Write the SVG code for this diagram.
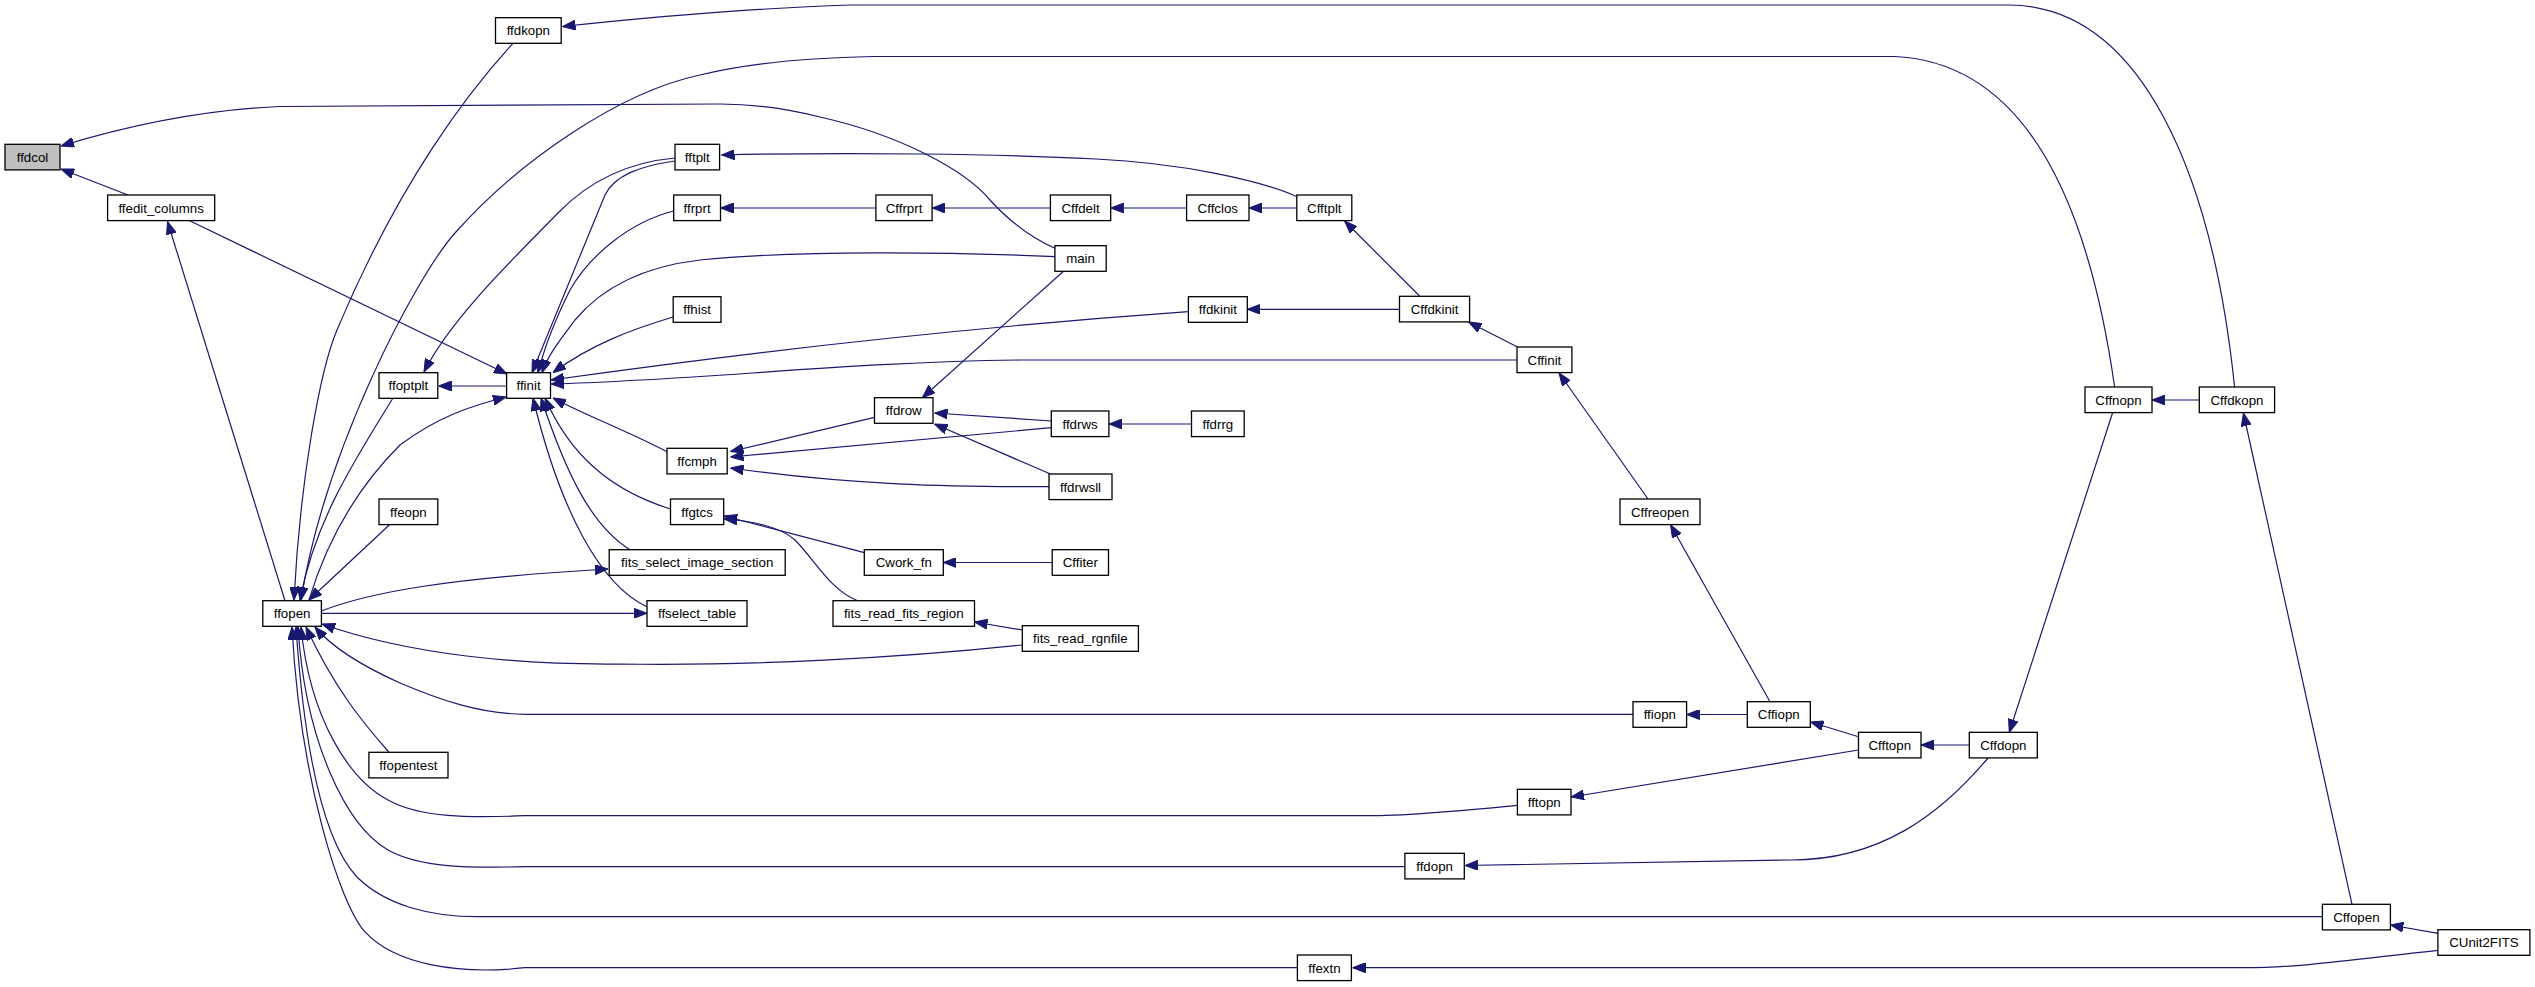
<svg xmlns="http://www.w3.org/2000/svg" width="2535" height="987" viewBox="0 0 2535 987">
<defs>
<style>
.n rect{fill:#fff;stroke:#000;stroke-width:1.3}
.n.root rect{fill:#bfbfbf}
.n text{font-family:"Liberation Sans",Arial,sans-serif;font-size:13.3px;fill:#000;text-anchor:middle}
#edges path{fill:none;stroke:#191970;stroke-width:1.2;marker-end:url(#ah)}
</style>
<marker id="ah" markerWidth="13" markerHeight="10" refX="13" refY="5" orient="auto" markerUnits="userSpaceOnUse">
<path d="M0,0 L13,5 L0,10 z" fill="#191970" stroke="#191970" stroke-width="1"/>
</marker>
</defs>
<rect width="2535" height="987" fill="#fff"/>
<g id="edges">
<path d="M1055,248.3 C1030,237 1010,222 990,200 C965,170 900,135 820,117 C780,107 750,104 720,104 L280,106.5 C200,110 120,128 61,146"/>
<path d="M128,195 L61,169"/>
<path d="M285,600.7 L167.5,221.5"/>
<path d="M189.7,220.7 L507,374"/>
<path d="M2234.6,387 C2212,170 2140,6 2009,5 L851,5 C760,8 650,17 562.5,26.5"/>
<path d="M513,43.3 C470,90 400,180 337,330 C320,370 300,480 294,600"/>
<path d="M2114.6,387 C2088,200 2025,62 1894,56.5 L873,56.5 C800,58 740,65 700,75 C620,92 520,160 455,233 C415,278 325,450 301,600"/>
<path d="M2199.3,400 L2152,400"/>
<path d="M2112.6,412.7 L2009.3,732.3"/>
<path d="M2352,904.3 L2243.4,413"/>
<path d="M2438,933.3 L2390.4,925"/>
<path d="M2438,950.3 C2350,960 2300,967.7 2244,967.7 L1352.5,967.7"/>
<path d="M2322.4,916.7 L480,916.7 C430,917 385,905 357,877 C325,843 305,760 296,627"/>
<path d="M1297.4,967.7 L525,967.7 C460,975 395,965 364.8,931.7 C340,904 300,780 292,627"/>
<path d="M1404.9,866.7 L525,866.7 C470,868 420,868 388,850 C345,825 305,740 298,627"/>
<path d="M1517.4,805.3 C1450,812 1400,815.7 1367,815.7 L525,815.7 C470,818 420,818 388,800 C350,780 310,720 301,627"/>
<path d="M1988,758 C1940,815 1880,860 1791,860 L1465,865.5"/>
<path d="M1969.3,745 L1921,745"/>
<path d="M1858.5,736.7 L1810.5,722"/>
<path d="M1858.5,750 L1571,797"/>
<path d="M1747.3,714.5 L1686.6,714.5"/>
<path d="M1770,701.7 L1670.5,524.7"/>
<path d="M1648,499 L1559,373"/>
<path d="M1517,346.7 L1468.5,322"/>
<path d="M1419.6,296 L1344.6,221"/>
<path d="M1399.5,309.3 L1247.3,309.3"/>
<path d="M1517,360 L1020,360 C850,362 700,380 551,384"/>
<path d="M1188.4,311.7 C1000,325 800,345 551,380"/>
<path d="M1297,196.7 C1260,180 1180,163 1096,159 C1000,154 850,152 721.5,155"/>
<path d="M1296.8,208 L1249,208"/>
<path d="M1186.6,208 L1110.7,208"/>
<path d="M1050.4,208 L932.1,208"/>
<path d="M875.9,208 L720.5,208"/>
<path d="M1063,271.7 L922.3,397.7"/>
<path d="M1055,256.7 C950,252 800,250 700,260 C640,267 600,290 575,320 C560,340 548,355 542,372.7"/>
<path d="M673,317 C630,330 590,345 553,372.7"/>
<path d="M673.7,211 C630,222 590,255 570,290 C555,320 545,345 538,372.7"/>
<path d="M675,161 C640,166 615,175 605,195 L532,372.7"/>
<path d="M675,158 C630,162 590,180 558,213 C510,262 450,320 424,372"/>
<path d="M506.6,386 L438.5,386"/>
<path d="M393,398 C355,460 315,520 300,600"/>
<path d="M390,524.3 L309,600"/>
<path d="M309,600 C330,530 365,480 400,445 C440,415 475,405 506,397"/>
<path d="M321.4,611 C370,592 450,578 608,569"/>
<path d="M321.4,613.3 L647,613.3"/>
<path d="M630,549.7 C590,525 565,470 541,398"/>
<path d="M647,606.7 C600,585 560,510 533,398"/>
<path d="M670.4,509 C610,490 570,455 545,398"/>
<path d="M667,451.7 C625,430 585,415 553,398"/>
<path d="M874.5,417.3 L730.5,451.5"/>
<path d="M1051.3,427.7 L730.5,457"/>
<path d="M1049,486.7 C950,487 850,485 730.5,468"/>
<path d="M1051.3,421 L934.5,413"/>
<path d="M1050.4,474 L934.5,424"/>
<path d="M1191.5,424 L1109,424"/>
<path d="M864.3,552.7 L724,516"/>
<path d="M857.6,600.7 C830,590 815,560 795,540 C780,527 755,521 724,519"/>
<path d="M1052.2,562.5 L943.3,562.5"/>
<path d="M1022.3,630 L974.5,622"/>
<path d="M1022.3,645 C900,658 750,666 620,664 C520,665 410,655 322,624"/>
<path d="M1633,714.3 L525.5,714.3 C480,714 440,700 400,683 C360,665 330,645 315,627"/>
<path d="M388.8,752 C365,725 335,690 306,627"/>
</g>
<g id="n_ffdcol" class="n root"><rect x="5" y="144.3" width="55" height="25.6"/><text x="32.5" y="161.8">ffdcol</text></g>
<g id="n_ffedit_columns" class="n"><rect x="107.6" y="195" width="107.1" height="25.6"/><text x="161.15" y="212.5">ffedit_columns</text></g>
<g id="n_ffdkopn" class="n"><rect x="495.5" y="17.7" width="65.7" height="25.6"/><text x="528.35" y="35.2">ffdkopn</text></g>
<g id="n_ffoptplt" class="n"><rect x="379" y="372.7" width="58.8" height="25.6"/><text x="408.4" y="390.2">ffoptplt</text></g>
<g id="n_ffinit" class="n"><rect x="506.6" y="372.7" width="43.9" height="25.6"/><text x="528.55" y="390.2">ffinit</text></g>
<g id="n_ffeopn" class="n"><rect x="379" y="499" width="58.8" height="25.6"/><text x="408.4" y="516.5">ffeopn</text></g>
<g id="n_ffopen" class="n"><rect x="262.8" y="600.7" width="58.6" height="25.6"/><text x="292.1" y="618.2">ffopen</text></g>
<g id="n_ffopentest" class="n"><rect x="368.9" y="752.3" width="79.1" height="25.6"/><text x="408.45" y="769.8">ffopentest</text></g>
<g id="n_fftplt" class="n"><rect x="675" y="144.3" width="44.6" height="25.6"/><text x="697.3" y="161.8">fftplt</text></g>
<g id="n_ffrprt" class="n"><rect x="673.7" y="195" width="46.8" height="25.6"/><text x="697.1" y="212.5">ffrprt</text></g>
<g id="n_ffhist" class="n"><rect x="673.2" y="296.7" width="47.8" height="25.6"/><text x="697.1" y="314.2">ffhist</text></g>
<g id="n_ffcmph" class="n"><rect x="667" y="448.3" width="60.2" height="25.6"/><text x="697.1" y="465.8">ffcmph</text></g>
<g id="n_ffgtcs" class="n"><rect x="670.5" y="499" width="53.2" height="25.6"/><text x="697.1" y="516.5">ffgtcs</text></g>
<g id="n_fits_select_image_section" class="n"><rect x="609.2" y="549.7" width="176" height="25.6"/><text x="697.2" y="567.2">fits_select_image_section</text></g>
<g id="n_ffselect_table" class="n"><rect x="647" y="600.7" width="100" height="25.6"/><text x="697" y="618.2">ffselect_table</text></g>
<g id="n_Cffrprt" class="n"><rect x="875.9" y="195" width="56.2" height="25.6"/><text x="904" y="212.5">Cffrprt</text></g>
<g id="n_Cffdelt" class="n"><rect x="1050.4" y="195" width="60.3" height="25.6"/><text x="1080.55" y="212.5">Cffdelt</text></g>
<g id="n_Cffclos" class="n"><rect x="1186.6" y="195" width="62.4" height="25.6"/><text x="1217.8" y="212.5">Cffclos</text></g>
<g id="n_Cfftplt" class="n"><rect x="1296.8" y="195" width="55" height="25.6"/><text x="1324.3" y="212.5">Cfftplt</text></g>
<g id="n_main" class="n"><rect x="1054.9" y="245.7" width="51.3" height="25.6"/><text x="1080.55" y="263.2">main</text></g>
<g id="n_ffdkinit" class="n"><rect x="1188.4" y="296.7" width="58.9" height="25.6"/><text x="1217.85" y="314.2">ffdkinit</text></g>
<g id="n_Cffdkinit" class="n"><rect x="1399.5" y="296.3" width="70.1" height="25.6"/><text x="1434.55" y="313.8">Cffdkinit</text></g>
<g id="n_Cffinit" class="n"><rect x="1517" y="347" width="54.9" height="25.6"/><text x="1544.45" y="364.5">Cffinit</text></g>
<g id="n_ffdrow" class="n"><rect x="874.5" y="397.7" width="58.5" height="25.6"/><text x="903.75" y="415.2">ffdrow</text></g>
<g id="n_ffdrws" class="n"><rect x="1051.3" y="411" width="57.6" height="25.6"/><text x="1080.1" y="428.5">ffdrws</text></g>
<g id="n_ffdrrg" class="n"><rect x="1191.5" y="411" width="52.7" height="25.6"/><text x="1217.85" y="428.5">ffdrrg</text></g>
<g id="n_ffdrwsll" class="n"><rect x="1049" y="474" width="63" height="25.6"/><text x="1080.5" y="491.5">ffdrwsll</text></g>
<g id="n_Cwork_fn" class="n"><rect x="864.3" y="549.7" width="79" height="25.6"/><text x="903.8" y="567.2">Cwork_fn</text></g>
<g id="n_Cffiter" class="n"><rect x="1052.2" y="549.7" width="56.3" height="25.6"/><text x="1080.35" y="567.2">Cffiter</text></g>
<g id="n_fits_read_fits_region" class="n"><rect x="833" y="600.7" width="141.5" height="25.6"/><text x="903.75" y="618.2">fits_read_fits_region</text></g>
<g id="n_fits_read_rgnfile" class="n"><rect x="1022.3" y="625.7" width="116.1" height="25.6"/><text x="1080.35" y="643.2">fits_read_rgnfile</text></g>
<g id="n_Cffreopen" class="n"><rect x="1620" y="499" width="80" height="25.6"/><text x="1660" y="516.5">Cffreopen</text></g>
<g id="n_Cffnopn" class="n"><rect x="2085" y="387" width="67" height="25.6"/><text x="2118.5" y="404.5">Cffnopn</text></g>
<g id="n_Cffdkopn" class="n"><rect x="2199.3" y="387" width="75.3" height="25.6"/><text x="2236.95" y="404.5">Cffdkopn</text></g>
<g id="n_ffiopn" class="n"><rect x="1633" y="701.7" width="53.6" height="25.6"/><text x="1659.8" y="719.2">ffiopn</text></g>
<g id="n_Cffiopn" class="n"><rect x="1747.3" y="701.7" width="63" height="25.6"/><text x="1778.8" y="719.2">Cffiopn</text></g>
<g id="n_Cfftopn" class="n"><rect x="1858.5" y="732.3" width="62.5" height="25.6"/><text x="1889.75" y="749.8">Cfftopn</text></g>
<g id="n_Cffdopn" class="n"><rect x="1969.3" y="732.3" width="68" height="25.6"/><text x="2003.3" y="749.8">Cffdopn</text></g>
<g id="n_fftopn" class="n"><rect x="1517.4" y="789.3" width="53.6" height="25.6"/><text x="1544.2" y="806.8">fftopn</text></g>
<g id="n_ffdopn" class="n"><rect x="1404.9" y="853.3" width="59.4" height="25.6"/><text x="1434.6" y="870.8">ffdopn</text></g>
<g id="n_ffextn" class="n"><rect x="1297.4" y="955" width="54" height="25.6"/><text x="1324.4" y="972.5">ffextn</text></g>
<g id="n_Cffopen" class="n"><rect x="2322.4" y="904.3" width="68" height="25.6"/><text x="2356.4" y="921.8">Cffopen</text></g>
<g id="n_CUnit2FITS" class="n"><rect x="2437.9" y="929.7" width="92" height="25.6"/><text x="2483.9" y="947.2">CUnit2FITS</text></g>
</svg>
